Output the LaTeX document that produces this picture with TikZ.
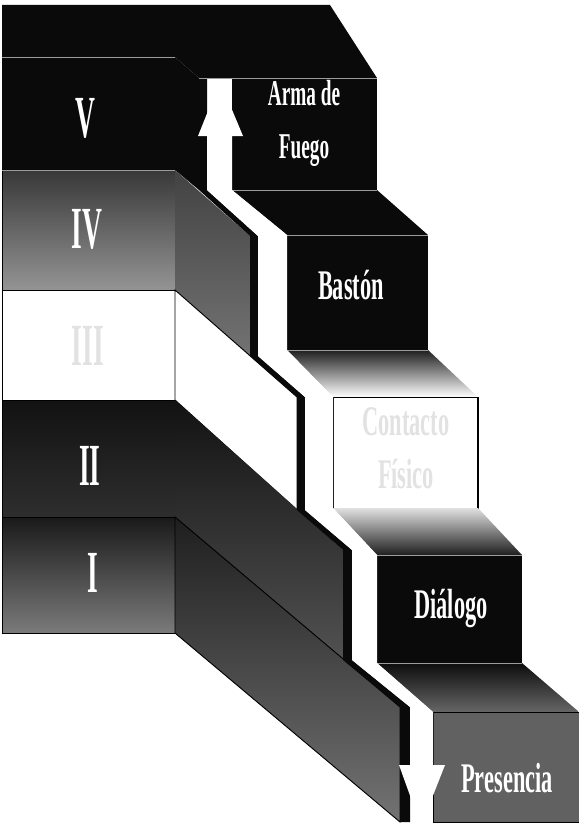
\documentclass[tikz,border=0pt]{standalone}
\usepackage{fontspec}
\newfontfamily\stepfont{Liberation Serif}[FakeStretch=0.53]
\newfontfamily\numfont{Liberation Serif}[FakeStretch=0.46]
\usepackage{xcolor}
\definecolor{stairblack}{HTML}{0a0a0a}
\definecolor{stairedge}{HTML}{9c9c9c}
\definecolor{stairfaint}{HTML}{e2e2e2}
\usepackage{tikz}

\begin{document}
\begin{tikzpicture}[x=0.3mm, y=-0.3mm,
  darkface/.style={fill=stairblack},
  rim/.style={draw=stairedge, line width=0.8pt},
  edge/.style={draw=black, line width=0.8pt},
  lbl/.style={text=white, font=\stepfont\bfseries\fontsize{36}{45}\selectfont,
    align=center, inner sep=0pt, anchor=base},
  numlbl/.style={font=\numfont\bfseries\fontsize{51}{51}\selectfont,
    inner sep=0pt, anchor=base}
]
\useasboundingbox (0,0) rectangle (579,828);

% left column: fronts I to V and the top face
\fill[stairblack] (2,5) -- (330,5) -- (377,78) -- (199,78) -- (175,57) -- (2,57) -- cycle;
\fill[stairblack] (2,57) rectangle (175,170);
\path[edge, top color=black!78, bottom color=black!42] (2,170) rectangle (175,290);
\path[edge, fill=white] (2,290) rectangle (175,400);
\path[edge, top color=black!93, bottom color=black!82] (2,400) rectangle (175,517);
\path[edge, top color=black!90, bottom color=black!52] (2,517) rectangle (175,633);

% side faces of the steps
\fill[stairblack] (175,57) -- (199,78) -- (199,190) -- (175,170) -- cycle;
\path[top color=black!74, bottom color=black!55] (175,170) -- (250,236) -- (250,356) -- (175,290) -- cycle;
\path[edge, fill=white] (175,290) -- (297,397) -- (297,510) -- (175,400) -- cycle;
\path[top color=black!93, bottom color=black!68] (175,400) -- (343,550) -- (343,660) -- (175,517) -- cycle;
\path[edge, top color=black!88, bottom color=black!55] (175,517) -- (400,707) -- (400,822) -- (175,633) -- cycle;

% dark rim along the gap
\fill[stairblack] (199,78) -- (207,78) -- (207,190) -- (258,236) -- (258,356) -- (305,397)
  -- (305,510) -- (352,550) -- (352,660) -- (410,707) -- (410,822) -- (400,822) -- (400,707)
  -- (343,660) -- (343,550) -- (297,510) -- (297,397) -- (250,356) -- (250,236) -- (199,190) -- cycle;

% right column: Arma de Fuego to Presencia
\fill[stairblack] (232,78) rectangle (377,190);
\fill[stairblack] (232,190) -- (377,190) -- (428,235) -- (287,235) -- cycle;
\fill[stairblack] (287,235) rectangle (428,350);
\path[top color=black!88, bottom color=white] (287,350) -- (428,350) -- (478,397) -- (333,397) -- cycle;
\path[edge, fill=white] (333,397) rectangle (478,508);
\draw[line width=2pt] (478,397) -- (478,508);
\path[top color=black!12, bottom color=black!88] (333,508) -- (478,508) -- (522,555) -- (377,555) -- cycle;
\fill[stairblack] (377,555) rectangle (522,663);
\path[top color=black!95, bottom color=black!60] (377,663) -- (522,663) -- (579,712) -- (433,712) -- cycle;
\path[edge, fill=black!62] (433,712) rectangle (579,822);

% light rims on the dark faces
\draw[rim] (2,57) -- (175,57);
\draw[rim] (2,170) -- (175,170);
\draw[rim] (199,78) -- (377,78);
\draw[rim] (232,190) -- (377,190);
\draw[rim] (287,235) -- (428,235);
\draw[rim] (287,350) -- (428,350);
\draw[rim] (377,555) -- (522,555);
\draw[rim] (377,663) -- (522,663);

% white arrow in the gap
\fill[white] (220,81) -- (243,136) -- (232,136) -- (232,190) -- (287,235) -- (287,350)
  -- (333,397) -- (333,508) -- (377,555) -- (377,663) -- (433,712) -- (433,765)
  -- (445,765) -- (421,826) -- (399,765) -- (410,765) -- (410,707) -- (352,660)
  -- (352,550) -- (305,510) -- (305,397) -- (258,356) -- (258,236) -- (207,190)
  -- (207,136) -- (198,136) -- cycle;

% labels (base = last line)
\node[lbl, font=\stepfont\bfseries\fontsize{31}{45}\selectfont] (arma) at (304,158) {Arma de\\Fuego};
\node[lbl] (baston) at (351,299) {Bastón};
\node[lbl, text=stairfaint] (contacto) at (406,488) {Contacto\\Físico};
\node[lbl] (dialogo) at (451,618) {Diálogo};
\node[lbl] (presencia) at (507,792) {Presencia};
\foreach \n/\x/\y/\c in {V/85/137/white, IV/87/248/white, III/88/365/stairfaint,
    II/90/485/white, I/93/592/white}
  \node[numlbl, text=\c] (step\n) at (\x,\y) {\n};
\end{tikzpicture}
\end{document}
